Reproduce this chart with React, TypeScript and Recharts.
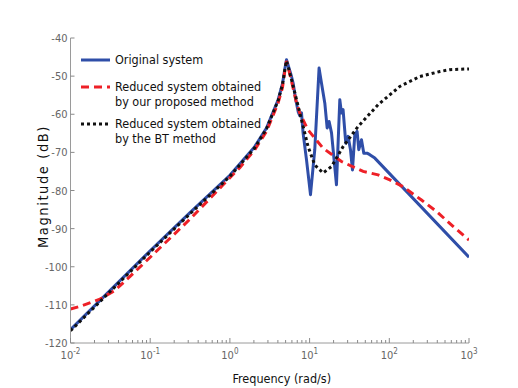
import React from 'react';
import { LineChart, Line, XAxis, YAxis, Legend } from 'recharts';

// ---- data (frequency in rad/s, magnitude in dB) ----
const originalFreq = [0.01, 0.1, 0.316, 1, 2.05, 2.88, 4.03, 4.57, 4.9, 5.13, 5.93, 6.21, 6.71, 7.18, 7.53, 7.91, 8.28, 9.14, 10.26, 11.61, 13.15, 14.09, 15.52, 16.6, 17.58, 18.84, 20.28, 21.73, 23.93, 25.12, 26.3, 28.44, 30.41, 32.58, 34.51, 36.9, 39.45, 41.4, 44.77, 47.86, 52.6, 56.9, 65.8, 1000];
const originalMag = [-116.5, -95.8, -85.8, -76, -68.5, -63.6, -56.2, -52, -48, -45.7, -50.1, -51.8, -56.2, -59.3, -60.4, -59.6, -64.9, -71.9, -81.1, -69.3, -47.9, -51.8, -57.1, -63.6, -61.9, -64.9, -71.9, -78.5, -56.2, -59.7, -58.8, -67.6, -65.8, -69.3, -74.6, -65.4, -64.5, -69.3, -66.7, -70.2, -70.2, -70.6, -71.5, -97.5];

const proposedFreq = [0.01, 0.0132, 0.0234, 0.036, 0.0555, 0.1, 0.316, 0.822, 1.33, 2.05, 2.88, 4.03, 4.57, 4.9, 5.13, 5.5, 6.03, 6.76, 7.53, 9.55, 14.76, 25.12, 47, 72.3, 101.4, 148.9, 253.5, 390.8, 631, 1000];
const proposedMag = [-111.1, -110.4, -108.5, -106.2, -102.6, -97.5, -87.5, -78.5, -74, -69.3, -64.5, -57, -53, -48.5, -46, -48.5, -52, -56.5, -59.7, -64.1, -68.9, -72.4, -75, -75.9, -77.2, -79, -82.5, -85.5, -89.4, -93];

const btFreq = [0.01, 0.1, 0.316, 1, 2.05, 2.88, 4.03, 4.57, 4.9, 5.13, 5.65, 6.53, 7.91, 9.57, 11.61, 14.76, 18.84, 26.3, 40.6, 72.3, 135.5, 241.5, 430.5, 574, 1000];
const btMag = [-116.8, -96.1, -86.1, -76.3, -68.8, -63.8, -56.4, -52.2, -48.2, -46, -49.2, -54.4, -61.4, -68.5, -73.3, -75.4, -73.7, -68.5, -63.2, -57.5, -52.7, -50.1, -48.8, -48.3, -48.1];

const xMajorTicks = [0.01, 0.1, 1, 10, 100, 1000];
const xMajorExponents = ['-2', '-1', '0', '1', '2', '3'];
const xMinorMultipliers = [2, 3, 4, 5, 6, 7, 8, 9];
const yTicks = [-120, -110, -100, -90, -80, -70, -60, -50, -40];

const seriesNames = [
  ['Original system'],
  ['Reduced system obtained', 'by our proposed method'],
  ['Reduced system obtained', 'by the BT method'],
];

const xLabel = 'Frequency (rad/s)';
const yLabel = 'Magnitude (dB)';

// ---- derived tables ----
const toRows = (f: number[], m: number[]) => f.map((v, i) => ({ f: v, m: m[i] }));
const originalData = toRows(originalFreq, originalMag);
const proposedData = toRows(proposedFreq, proposedMag);
const btData = toRows(btFreq, btMag);

const xAllTicks: number[] = [];
xMajorTicks.forEach((t, i) => {
  xAllTicks.push(t);
  if (i < xMajorTicks.length - 1) xMinorMultipliers.forEach((m) => xAllTicks.push(+(t * m).toPrecision(6)));
});

// ---- styles ----
const BLUE = '#2f4ea8';
const RED = '#ee2027';
const BLACK = '#111111';
const TICK = '#8a8a8a';
const AXIS = '#9a9a9a';
const TICK_FONT = "'Liberation Sans Narrow', 'DejaVu Sans Condensed', 'Roboto', sans-serif";
const TEXT_FONT = "'DejaVu Sans Condensed', 'DejaVu Sans', sans-serif";

const isMajor = (v: number) => xMajorTicks.some((t) => Math.abs(t - v) / t < 1e-6);

const XTickBottom = (props: any) => {
  const { x, y, payload } = props;
  const v = payload.value;
  const idx = xMajorTicks.findIndex((t) => Math.abs(t - v) / t < 1e-6);
  const major = idx >= 0;
  return (
    <g>
      <line x1={x} x2={x} y1={y} y2={y - (major ? 5 : 3)} stroke={TICK} strokeWidth={1} />
      {major && (
        <text x={x} y={y + 16} textAnchor="middle" fill="#666" fontFamily={TICK_FONT} fontSize={11}>
          10
          <tspan dy={-5} fontSize={8}>{xMajorExponents[idx]}</tspan>
        </text>
      )}
    </g>
  );
};

const XTickTop = (props: any) => {
  const { x, y, payload } = props;
  const major = isMajor(payload.value);
  return <line x1={x} x2={x} y1={y} y2={y + (major ? 5 : 3)} stroke={TICK} strokeWidth={1} />;
};

const YTickLeft = (props: any) => {
  const { x, y, payload } = props;
  return (
    <g>
      <line x1={x} x2={x + 4} y1={y} y2={y} stroke={TICK} strokeWidth={1} />
      <text x={x - 3} y={y + 4} textAnchor="end" fill="#666" fontFamily={TICK_FONT} fontSize={11}>
        {payload.value}
      </text>
    </g>
  );
};

const YTickRight = (props: any) => {
  const { x, y } = props;
  return <line x1={x} x2={x - 4} y1={y} y2={y} stroke={TICK} strokeWidth={1} />;
};

const YLabel = (props: any) => {
  const vb = props.viewBox || {};
  const cy = vb.y + vb.height / 2 - 4;
  const cx = 48;
  return (
    <text x={cx} y={cy} transform={`rotate(-90, ${cx}, ${cy})`} textAnchor="middle" fill="#111" fontFamily={TEXT_FONT} fontSize={14.5} letterSpacing={1.6}>
      {yLabel}
    </text>
  );
};

const LegendBox = () => {
  const styles = [
    { stroke: BLUE, dash: undefined as string | undefined },
    { stroke: RED, dash: '8 5' },
    { stroke: BLACK, dash: '3 3' },
  ];
  const rowY = [12, 39, 76];
  return (
    <svg width={200} height={104} style={{ display: 'block', overflow: 'visible' }}>
      {seriesNames.map((lines, i) => (
        <g key={i}>
          <line x1={6} x2={35} y1={rowY[i]} y2={rowY[i]} stroke={styles[i].stroke} strokeWidth={3} strokeDasharray={styles[i].dash} />
          {lines.map((t, j) => (
            <text key={j} x={40} y={rowY[i] + 4 + j * 14.5} fill="#111" fontFamily={TEXT_FONT} fontSize={12.5}>
              {t}
            </text>
          ))}
        </g>
      ))}
    </svg>
  );
};

export default function App() {
  return (
    <div style={{ position: 'absolute', left: 0, top: 0, width: 518, height: 388, background: '#fff' }}>
      <LineChart width={518} height={388} margin={{ top: 38, right: 49, bottom: 0, left: 0 }}>
        <XAxis
          xAxisId="b"
          type="number"
          dataKey="f"
          scale="log"
          domain={[0.01, 1000]}
          allowDataOverflow
          ticks={xAllTicks}
          interval={0}
          tick={<XTickBottom />}
          tickLine={false}
          tickSize={0}
          tickMargin={0}
          axisLine={{ stroke: AXIS }}
          height={45}
          label={{ value: xLabel, position: 'insideBottom', offset: 5, dx: 12, fill: '#111', fontFamily: TEXT_FONT, fontSize: 12.5 }}
        />
        <XAxis
          xAxisId="t"
          orientation="top"
          type="number"
          dataKey="f"
          scale="log"
          domain={[0.01, 1000]}
          allowDataOverflow
          ticks={xAllTicks}
          interval={0}
          tick={<XTickTop />}
          tickLine={false}
          tickSize={0}
          tickMargin={0}
          axisLine={{ stroke: AXIS }}
          height={0}
        />
        <YAxis
          yAxisId="l"
          type="number"
          domain={[-120, -40]}
          ticks={yTicks}
          interval={0}
          allowDataOverflow
          tick={<YTickLeft />}
          tickLine={false}
          tickSize={0}
          tickMargin={0}
          axisLine={{ stroke: AXIS }}
          width={70.5}
          label={<YLabel />}
        />
        <YAxis
          yAxisId="r"
          orientation="right"
          type="number"
          domain={[-120, -40]}
          ticks={yTicks}
          interval={0}
          allowDataOverflow
          tick={<YTickRight />}
          tickLine={false}
          tickSize={0}
          tickMargin={0}
          axisLine={{ stroke: AXIS }}
          width={0}
        />
        <Legend
          layout="vertical"
          align="center"
          verticalAlign="middle"
          content={<LegendBox />}
          wrapperStyle={{ position: 'absolute', left: 75, top: 48, width: 200, height: 104 }}
        />
        <Line xAxisId="b" yAxisId="l" data={originalData} dataKey="m" type="linear" stroke={BLUE} strokeWidth={3} dot={false} activeDot={false} isAnimationActive={false} strokeLinejoin="round" />
        <Line xAxisId="b" yAxisId="l" data={proposedData} dataKey="m" type="linear" stroke={RED} strokeWidth={3} strokeDasharray="8 5" dot={false} activeDot={false} isAnimationActive={false} />
        <Line xAxisId="b" yAxisId="l" data={btData} dataKey="m" type="linear" stroke={BLACK} strokeWidth={3} strokeDasharray="3 3" dot={false} activeDot={false} isAnimationActive={false} />
      </LineChart>
    </div>
  );
}
